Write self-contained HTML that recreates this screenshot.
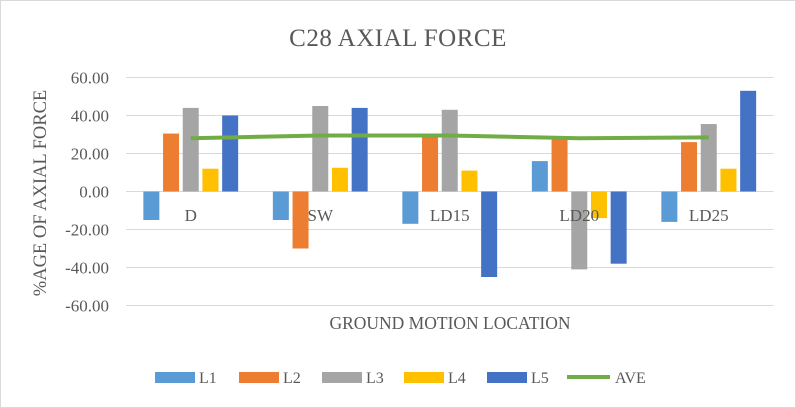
<!DOCTYPE html>
<html><head><meta charset="utf-8"><style>
html,body{margin:0;padding:0;background:#fff;}
svg{display:block;font-family:"Liberation Serif",serif;}
</style></head><body>
<svg id="chart" width="796" height="408" viewBox="0 0 796 408">
<rect x="0.5" y="0.5" width="795" height="407" fill="#fff" stroke="#d9d9d9"/>
<text x="398" y="46" text-anchor="middle" font-size="25" fill="#595959" letter-spacing="0.5">C28 AXIAL FORCE</text>
<text transform="translate(46,193) rotate(-90)" text-anchor="middle" font-size="18.5" fill="#595959">%AGE OF AXIAL FORCE</text>
<text x="450" y="329" text-anchor="middle" font-size="17.5" fill="#595959">GROUND MOTION LOCATION</text>
<g id="grid"></g><g id="ticks"></g><g id="bars"></g><g id="line"></g><g id="cats"></g><g id="legend"></g>
</svg>
<script>
const categories=["D","SW","LD15","LD20","LD25"];
const seriesNames=["L1","L2","L3","L4","L5"];
const L1=[-15,-15,-17,16,-16];
const L2=[30.5,-30,29,29,26];
const L3=[44,45,43,-41,35.5];
const L4=[12,12.5,11,-14,12];
const L5=[40,44,-45,-38,53];
const AVE=[28,29.5,29.5,28,28.5];
const yTicks=[60,40,20,0,-20,-40,-60];
const colors=["#5b9bd5","#ed7d31","#a5a5a5","#ffc000","#4472c4"];
const series=[L1,L2,L3,L4,L5];
const NS="http://www.w3.org/2000/svg";
const y0=191.5,py=1.9,left=126,band=129.5;
function y(v){return y0-v*py;}
function xc(i){return left+band*(i+0.5);}
function mk(tag,attrs,parent){const e=document.createElementNS(NS,tag);for(const k in attrs)e.setAttribute(k,attrs[k]);document.getElementById(parent).appendChild(e);return e;}
yTicks.forEach(t=>{
  const g=mk("line",{x1:left,x2:left+band*5,y1:y(t),y2:y(t),stroke:"#d9d9d9","stroke-width":"1"},"grid");
  
  
  const e=mk("text",{x:109,y:y(t)+6,"text-anchor":"end","font-size":"17",fill:"#595959"},"ticks");
  e.textContent=t.toFixed(2);
  
  
});
series.forEach((s,si)=>{
  s.forEach((v,i)=>{
    const cx=xc(i)+(si-2)*19.7;
    const r=mk("rect",{x:cx-8,y:Math.min(y(v),y0),width:16,height:Math.abs(v*py),fill:colors[si]},"bars");
    
    
  });
});
const pl=mk("polyline",{points:AVE.map((v,i)=>xc(i)+","+y(v)).join(" "),fill:"none",stroke:"#70ad47","stroke-width":"4"},"line");


categories.forEach((c,i)=>{
  const e=mk("text",{x:xc(i),y:221,"text-anchor":"middle","font-size":"17",fill:"#595959"},"cats");
  e.textContent=c;
  
  
});
const legX=[155,239,322,404,487];
seriesNames.forEach((n,i)=>{
  const r=mk("rect",{x:legX[i],y:372,width:40,height:11,fill:colors[i]},"legend");
  
  
  const t=mk("text",{x:legX[i]+44,y:383,"font-size":"16",fill:"#595959"},"legend");
  t.textContent=n;
  
  
});
const ll=mk("line",{x1:567,y1:377,x2:610,y2:377,stroke:"#70ad47","stroke-width":"4"},"legend");


const lt=mk("text",{x:615,y:383,"font-size":"16",fill:"#595959"},"legend");
lt.textContent="AVE";


</script>
</body></html>
